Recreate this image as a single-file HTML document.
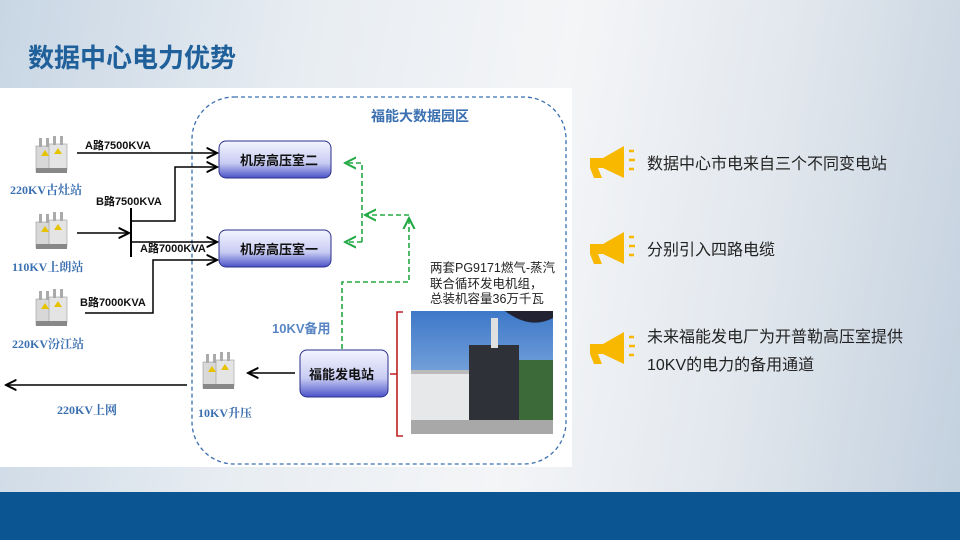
<!DOCTYPE html>
<html><head><meta charset="utf-8"><style>
html,body{margin:0;padding:0}
body{width:960px;height:540px;overflow:hidden;position:relative;font-family:"Liberation Sans","Noto Sans CJK SC",sans-serif;
background:linear-gradient(100deg,#c8d6e4 0%,#e8edf2 30%,#f4f5f7 55%,#e3e8ee 75%,#c2d0de 100%);}
.t{position:absolute;white-space:nowrap}
</style></head><body>
<div class="t" style="left:28px;top:38px;font-size:26px;font-weight:bold;color:#1f5f9a;">数据中心电力优势</div>
<div style="position:absolute;left:0;top:88px;width:572px;height:379px;background:#fff"></div>
<div style="position:absolute;left:0;top:492px;width:960px;height:48px;background:#0b5593"></div>

<svg width="960" height="540" style="position:absolute;left:0;top:0" font-family="Liberation Sans, Noto Sans CJK SC, sans-serif">
<defs>
<linearGradient id="bx" x1="0" y1="0" x2="0" y2="1"><stop offset="0" stop-color="#f4f4ff"/><stop offset="0.6" stop-color="#c8ccf2"/><stop offset="1" stop-color="#4a52c8"/></linearGradient>
<linearGradient id="sky" x1="0" y1="0" x2="0" y2="1"><stop offset="0" stop-color="#3d78c8"/><stop offset="1" stop-color="#a9c8ea"/></linearGradient>
<marker id="ak" markerWidth="8" markerHeight="8" refX="7" refY="4" orient="auto"><path d="M0,0.5 L7,4 L0,7.5" fill="none" stroke="#000" stroke-width="1.3"/></marker>
<marker id="ag" markerWidth="8" markerHeight="8" refX="7" refY="4" orient="auto"><path d="M0,0.5 L7,4 L0,7.5" fill="none" stroke="#22aa44" stroke-width="1.3"/></marker>
<g id="tr">
<rect x="0" y="8" width="18" height="26" fill="#d8d8d8" stroke="#999" stroke-width="0.6"/>
<rect x="13" y="6" width="18" height="26" fill="#e4e4e4" stroke="#999" stroke-width="0.6"/>
<rect x="3" y="0" width="3" height="9" fill="#aaa"/><rect x="10" y="0" width="3" height="9" fill="#aaa"/>
<rect x="17" y="-2" width="3" height="9" fill="#aaa"/><rect x="24" y="-2" width="3" height="9" fill="#aaa"/>
<path d="M5,18 l4,-6 l4,6z" fill="#e6c200"/><path d="M18,16 l4,-6 l4,6z" fill="#e6c200"/>
<rect x="0" y="30" width="31" height="5" fill="#888"/>
</g>
</defs>
<rect x="192" y="97" width="374" height="367" rx="42" fill="none" stroke="#3a6fb0" stroke-width="1.3" stroke-dasharray="4,3"/>
<text x="420" y="121" text-anchor="middle" font-size="14" font-weight="bold" fill="#3a6fb0">福能大数据园区</text>

<use href="#tr" x="36" y="138"/><use href="#tr" x="36" y="214"/><use href="#tr" x="36" y="291"/><use href="#tr" x="203" y="354"/>
<g font-size="12" font-weight="bold" fill="#3a6fb0" font-family="Liberation Serif, Noto Serif CJK SC, serif">
<text x="10" y="194">220KV古灶站</text><text x="12" y="271">110KV上朗站</text><text x="12" y="348">220KV汾江站</text>
<text x="57" y="414">220KV上网</text><text x="198" y="417">10KV升压</text>
</g>
<text x="272" y="333" font-size="13" font-weight="bold" fill="#5a86c4">10KV备用</text>

<g stroke="#000" stroke-width="1.5" fill="none">
<path d="M77,153 H217" marker-end="url(#ak)"/>
<path d="M131,221 H175 V167 H217" marker-end="url(#ak)"/>
<path d="M77,233 H129" marker-end="url(#ak)"/>
<path d="M131,208 V257" stroke-width="2"/>
<path d="M131,242 H217" marker-end="url(#ak)"/>
<path d="M85,313 H153 V260 H217" marker-end="url(#ak)"/>
<path d="M187,385 H6" marker-end="url(#ak)"/>
<path d="M295,373 H248" marker-end="url(#ak)"/>
</g>
<g font-size="11" font-weight="bold" fill="#111">
<text x="85" y="149">A路7500KVA</text><text x="96" y="205">B路7500KVA</text>
<text x="140" y="252">A路7000KVA</text><text x="80" y="306">B路7000KVA</text>
</g>

<g stroke="#22aa44" stroke-width="1.6" fill="none" stroke-dasharray="5,3">
<path d="M362,242 V163 H345" marker-end="url(#ag)"/>
<path d="M362,242 H345" marker-end="url(#ag)"/>
<path d="M409,215 H365" marker-end="url(#ag)"/>
<path d="M342,349 V282 H409 V218" marker-end="url(#ag)"/>
</g>

<rect x="219" y="141" width="112" height="37" rx="7" fill="url(#bx)" stroke="#2a2f8a" stroke-width="1"/>
<rect x="219" y="230" width="112" height="37" rx="7" fill="url(#bx)" stroke="#2a2f8a" stroke-width="1"/>
<rect x="300" y="350" width="88" height="47" rx="7" fill="url(#bx)" stroke="#2a2f8a" stroke-width="1"/>
<g font-size="13" font-weight="bold" fill="#111">
<text x="240" y="165">机房高压室二</text><text x="240" y="254">机房高压室一</text><text x="309" y="379">福能发电站</text>
</g>
<g font-size="12.5" fill="#222"><text x="430" y="272">两套PG9171燃气-蒸汽</text><text x="430" y="288">联合循环发电机组，</text><text x="430" y="303">总装机容量36万千瓦</text></g>

<path d="M403,312 H397 V436 H403 M397,374 H390" fill="none" stroke="#c02020" stroke-width="1.6"/>
<rect x="411" y="311" width="142" height="123" fill="url(#sky)"/>
<rect x="411" y="370" width="58" height="64" fill="#e6e8ea"/>
<rect x="411" y="370" width="58" height="4" fill="#bbb"/>
<rect x="469" y="345" width="50" height="89" fill="#2e3238"/>
<rect x="491" y="318" width="7" height="30" fill="#e0e0e0"/>
<rect x="519" y="360" width="34" height="74" fill="#3c6a38"/>
<rect x="411" y="420" width="142" height="14" fill="#a8a8a8"/>
<path d="M505,311 Q530,330 553,318 V311z" fill="#223"/>

<g fill="#f8b800">
<path d="M590,158 L603,158 L624,146 L624,178 L603,168 L598,168 L602,178 L594,178 L590,168z"/>
<path d="M590,244 L603,244 L624,232 L624,264 L603,254 L598,254 L602,264 L594,264 L590,254z"/>
<path d="M590,344 L603,344 L624,332 L624,364 L603,354 L598,354 L602,364 L594,364 L590,354z"/>
</g>
<g stroke="#f8b800" stroke-width="2.5">
<path d="M629,151h5M629,160h6M629,169h5"/><path d="M629,237h5M629,246h6M629,255h5"/><path d="M629,337h5M629,346h6M629,355h5"/>
</g>
<g font-size="16" fill="#222">
<text x="647" y="169">数据中心市电来自三个不同变电站</text>
<text x="647" y="255">分别引入四路电缆</text>
<text x="647" y="342">未来福能发电厂为开普勒高压室提供</text>
<text x="647" y="370">10KV的电力的备用通道</text>
</g>
</svg>
</body></html>
